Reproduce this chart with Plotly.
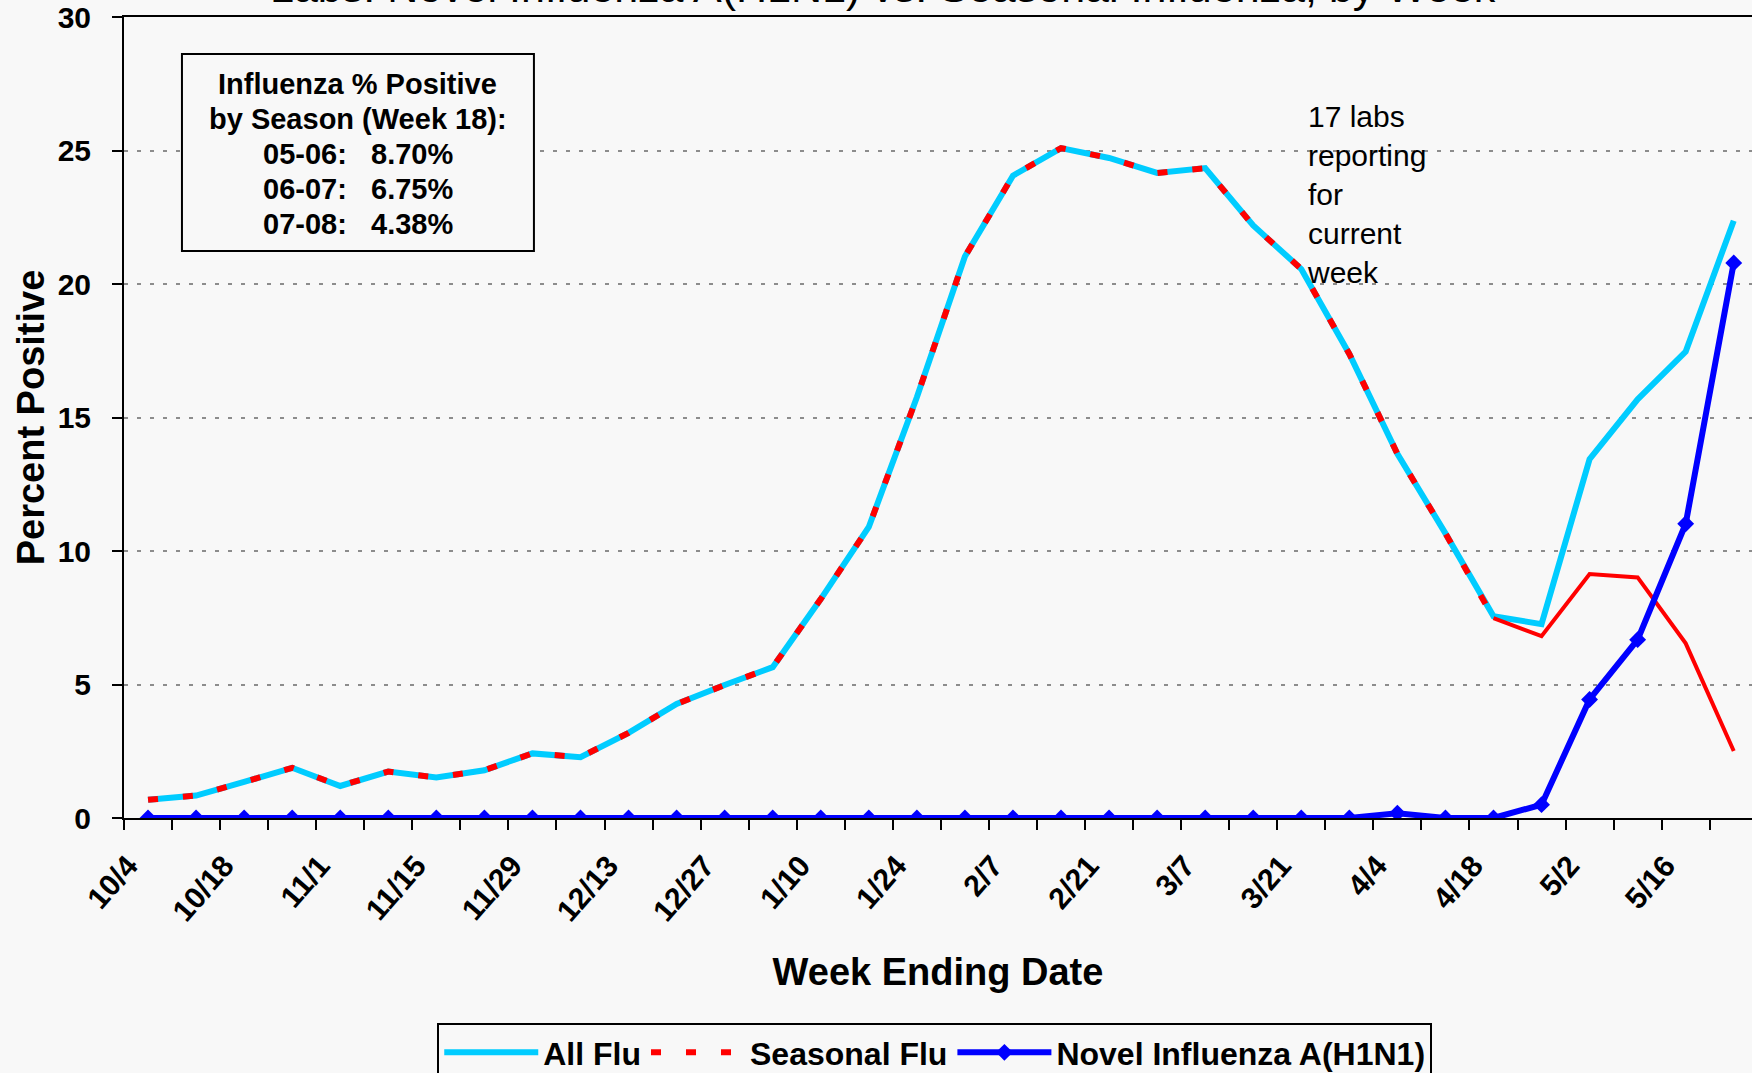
import plotly.graph_objects as go

# week ending dates, 2008-10-04 .. 2009-05-23
weeks = ["10/4", "10/11", "10/18", "10/25", "11/1", "11/8", "11/15", "11/22",
         "11/29", "12/6", "12/13", "12/20", "12/27", "1/3", "1/10", "1/17",
         "1/24", "1/31", "2/7", "2/14", "2/21", "2/28", "3/7", "3/14",
         "3/21", "3/28", "4/4", "4/11", "4/18", "4/25", "5/2", "5/9",
         "5/16", "5/23"]

all_flu = [0.68, 0.84, 1.35, 1.88, 1.20, 1.74, 1.52, 1.79, 2.42, 2.28,
           3.19, 4.27, 4.98, 5.65, 8.20, 10.90, 15.76, 21.03, 24.06, 25.09,
           24.72, 24.16, 24.34, 22.19, 20.56, 17.38, 13.64, 10.66, 7.56, 7.26,
           13.44, 15.68, 17.47, 22.37]

seasonal_flu = [0.68, 0.84, 1.35, 1.88, 1.20, 1.74, 1.52, 1.79, 2.42, 2.28,
                3.19, 4.27, 4.98, 5.65, 8.20, 10.90, 15.76, 21.03, 24.06, 25.09,
                24.72, 24.16, 24.34, 22.19, 20.56, 17.38, 13.64, 10.66, 7.49, 6.81,
                9.14, 9.01, 6.54, 2.51]

novel_h1n1 = [0, 0, 0, 0, 0, 0, 0, 0, 0, 0,
              0, 0, 0, 0, 0, 0, 0, 0, 0, 0,
              0, 0, 0, 0, 0, 0, 0.18, 0, 0, 0.50,
              4.44, 6.68, 11.02, 20.79]

seasons = ["05-06", "06-07", "07-08"]
week18_pct = [8.70, 6.75, 4.38]

FONT = "Liberation Sans, Arial, sans-serif"
BG = "#F8F8F8"

x = list(range(len(weeks)))
split = weeks.index("4/18")  # seasonal drawn dashed while it tracks all flu

fig = go.Figure()
fig.add_trace(go.Scatter(x=x, y=all_flu, mode="lines", name="All Flu",
                         line=dict(color="#00CCFF", width=6)))
fig.add_trace(go.Scatter(x=x[:split + 1], y=seasonal_flu[:split + 1], mode="lines",
                         name="Seasonal Flu",
                         line=dict(color="#FF0000", width=6, dash="10px,25px")))
fig.add_trace(go.Scatter(x=x[split:], y=seasonal_flu[split:], mode="lines",
                         showlegend=False, line=dict(color="#FF0000", width=4)))
fig.add_trace(go.Scatter(x=x, y=novel_h1n1, mode="lines+markers",
                         name="Novel Influenza A(H1N1)",
                         line=dict(color="#0000FF", width=6),
                         marker=dict(symbol="diamond", size=13, color="#0000FF")))

# season summary box (frame + one annotation per line for tighter spacing)
box_lines = ["Influenza % Positive", "by Season (Week 18):"]
box_lines += [f"{s}:\u00a0\u00a0\u00a0{v:.2f}%" for s, v in zip(seasons, week18_pct)]
fig.add_shape(type="rect", xref="paper", yref="paper", x0=0.0356, x1=0.2518,
              y0=0.7079, y1=0.9538, line=dict(color="black", width=2), fillcolor=BG,
              layer="above")
for i, txt in enumerate(box_lines):
    fig.add_annotation(text=txt, xref="paper", yref="paper", x=0.1437,
                       y=0.9166 - i * 0.0439, xanchor="center", yanchor="middle",
                       showarrow=False,
                       font=dict(family=FONT, size=29, color="black", weight="bold"))

fig.add_annotation(text="17 labs<br>reporting<br>for<br>current<br>week",
                   xref="paper", yref="paper", x=0.7254, y=0.779,
                   xanchor="left", yanchor="middle", align="left", showarrow=False,
                   font=dict(family=FONT, size=30, color="black"))
fig.add_annotation(text="Labs: Novel Influenza A(H1N1) vs. Seasonal Influenza, by Week",
                   xref="paper", yref="paper", x=0.466, y=1, xanchor="center",
                   yanchor="bottom", yshift=4, showarrow=False,
                   font=dict(family=FONT, size=43, color="black"))

fig.update_xaxes(range=[-0.5, 33.38], tickvals=x[::2], ticktext=weeks[::2],
                 tickangle=-49, ticks="", ticklabelstandoff=16, ticklabelshift=-20,
                 tickfont=dict(family=FONT, size=30, color="black", weight="bold"),
                 minor=dict(tick0=-0.5, dtick=1, ticks="outside", ticklen=10,
                            tickwidth=2, tickcolor="black"),
                 showline=True, linecolor="black", linewidth=2, mirror=True,
                 showgrid=False, zeroline=False,
                 title=dict(text="Week Ending Date", standoff=32,
                            font=dict(family=FONT, size=38, color="black", weight="bold")))
fig.update_yaxes(range=[0, 30], dtick=5, ticks="outside", ticklen=10, tickwidth=2,
                 tickcolor="black", ticklabelstandoff=15,
                 tickfont=dict(family=FONT, size=30, color="black", weight="bold"),
                 showline=True, linecolor="black", linewidth=2,
                 showgrid=True, gridcolor="#8C8C8C", gridwidth=2, griddash="4px,9px",
                 zeroline=False,
                 title=dict(text="Percent Positive", standoff=1,
                            font=dict(family=FONT, size=38, color="black", weight="bold")))

fig.update_layout(width=1752, height=1073, plot_bgcolor=BG, paper_bgcolor=BG,
                  margin=dict(l=124, r=0, t=17, b=255, autoexpand=False),
                  showlegend=True,
                  legend=dict(orientation="h", x=0.498, y=-0.256, xanchor="center",
                              yanchor="top", bgcolor=BG, bordercolor="black",
                              borderwidth=2, itemwidth=94,
                              font=dict(family=FONT, size=32, color="black", weight="bold")))

fig.write_html("out.html", config={"displayModeBar": False},
               post_script="document.body.style.margin='0';"
                           "document.body.style.background='#F8F8F8';")
